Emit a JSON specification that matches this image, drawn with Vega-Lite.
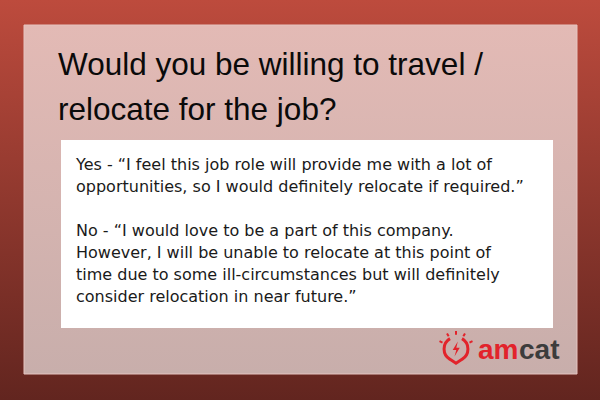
{
  "$schema": "https://vega.github.io/schema/vega-lite/v6.json",
  "width": 600,
  "height": 400,
  "padding": 0,
  "autosize": {"type": "fit", "contains": "padding"},
  "background": "#ffffff",
  "config": {"view": {"stroke": null}},
  "datasets": {
    "boxes": [
      {"box": "frame", "left": 0, "right": 600, "top": 0, "bottom": 400},
      {"box": "card", "left": 24, "right": 577, "top": 25, "bottom": 374},
      {"box": "answer", "left": 61, "right": 553, "top": 140, "bottom": 328}
    ],
    "question": [
      {"left": 58, "top": 75, "text": "Would you be willing to travel /\nrelocate for the job?"}
    ],
    "answers": [
      {"left": 76, "top": 170, "text": "Yes - “I feel this job role will provide me with a lot of\nopportunities, so I would definitely relocate if required.”"},
      {"left": 76, "top": 236, "text": "No - “I would love to be a part of this company.\nHowever, I will be unable to relocate at this point of\ntime due to some ill-circumstances but will definitely\nconsider relocation in near future.”"}
    ],
    "brand": [
      {"part": "am", "left": 478, "top": 359},
      {"part": "cat", "left": 519, "top": 359}
    ],
    "icon": [
      {"left": 456, "top": 349}
    ]
  },
  "encoding": {
    "x": {"field": "left", "type": "quantitative", "scale": {"domain": [0, 600], "nice": false, "zero": false}, "axis": null},
    "y": {"field": "top", "type": "quantitative", "scale": {"domain": [0, 400], "nice": false, "zero": false, "reverse": true}, "axis": null}
  },
  "layer": [
    {
      "data": {"name": "boxes"},
      "transform": [{"filter": "datum.box === 'frame'"}],
      "mark": {
        "type": "rect",
        "fill": {
          "gradient": "linear", "x1": 0, "y1": 0, "x2": 0, "y2": 1,
          "stops": [{"offset": 0, "color": "#bd4b3d"}, {"offset": 1, "color": "#62251f"}]
        }
      },
      "encoding": {"x2": {"field": "right"}, "y2": {"field": "bottom"}}
    },
    {
      "data": {"name": "boxes"},
      "transform": [{"filter": "datum.box === 'card'"}],
      "mark": {
        "type": "rect",
        "stroke": "#e6c4c0",
        "strokeWidth": 1,
        "fill": {
          "gradient": "linear", "x1": 0, "y1": 0, "x2": 0, "y2": 1,
          "stops": [{"offset": 0, "color": "#e3bab5"}, {"offset": 1, "color": "#c8aeab"}]
        }
      },
      "encoding": {"x2": {"field": "right"}, "y2": {"field": "bottom"}}
    },
    {
      "data": {"name": "boxes"},
      "transform": [{"filter": "datum.box === 'answer'"}],
      "mark": {"type": "rect", "fill": "#ffffff"},
      "encoding": {"x2": {"field": "right"}, "y2": {"field": "bottom"}}
    },
    {
      "data": {"name": "question"},
      "mark": {
        "type": "text", "align": "left", "baseline": "alphabetic",
        "font": "Liberation Sans", "fontSize": 31.5, "lineHeight": 45,
        "lineBreak": "\n", "color": "#0a0a0a"
      },
      "encoding": {"text": {"field": "text"}}
    },
    {
      "data": {"name": "answers"},
      "mark": {
        "type": "text", "align": "left", "baseline": "alphabetic",
        "font": "DejaVu Sans", "fontSize": 16, "lineHeight": 22,
        "lineBreak": "\n", "color": "#1a1a1a"
      },
      "encoding": {"text": {"field": "text"}}
    },
    {
      "data": {"name": "brand"},
      "mark": {
        "type": "text", "align": "left", "baseline": "alphabetic",
        "font": "Liberation Sans", "fontWeight": "bold", "fontSize": 28
      },
      "encoding": {
        "text": {"field": "part"},
        "color": {"field": "part", "type": "nominal", "scale": {"domain": ["am", "cat"], "range": ["#e2232b", "#3c3c3c"]}, "legend": null}
      }
    },
    {
      "data": {"name": "icon"},
      "mark": {
        "type": "point", "filled": false, "color": "#e2232b", "strokeWidth": 3, "size": 900, "opacity": 1,
        "shape": "M0.4,-0.69 A0.8,0.8 0 0 1 0.4,0.69 L0,0.95 L-0.4,0.69 A0.8,0.8 0 0 1 -0.4,-0.69"
      }
    },
    {
      "data": {"name": "icon"},
      "mark": {
        "type": "point", "filled": false, "color": "#e2232b", "strokeWidth": 2, "size": 900, "opacity": 1,
        "shape": "M0,-0.95 L0,-1.2 M0.49,-0.85 L0.6,-1.04 M-0.49,-0.85 L-0.6,-1.04 M0.9,-0.42 L1.1,-0.52 M-0.9,-0.42 L-1.1,-0.52"
      }
    },
    {
      "data": {"name": "icon"},
      "mark": {
        "type": "point", "filled": true, "color": "#e2232b", "size": 900, "opacity": 1,
        "shape": "M0.12,-0.5 L-0.22,0.06 L0.02,0.06 L-0.1,0.5 L0.25,-0.08 L0.02,-0.08 Z"
      }
    }
  ]
}
